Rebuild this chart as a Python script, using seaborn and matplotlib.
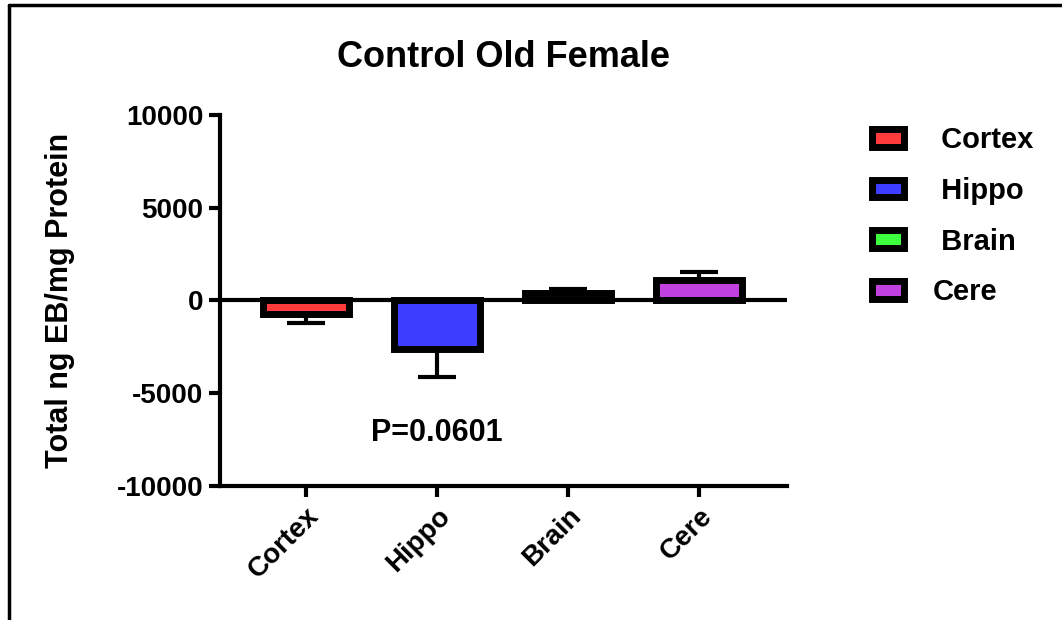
import matplotlib
matplotlib.use("Agg")
import matplotlib.pyplot as plt
import seaborn as sns
import pandas as pd
from matplotlib.patches import Patch
from matplotlib.lines import Line2D

categories = ["Cortex", "Hippo", "Brain", "Cere"]
means = [-750, -2600, 380, 1080]
errors = [480, 1500, 210, 430]
legend_labels = [" Cortex", " Hippo", " Brain", "Cere"]
colors = ["#FF3B3B", "#3D3DFF", "#3DFF3D", "#C040E0"]
yticks = [-10000, -5000, 0, 5000, 10000]

sns.set_style("white")
plt.rcParams['font.family'] = ['Liberation Sans', 'DejaVu Sans']
plt.rcParams['text.color'] = 'black'
plt.rcParams['axes.labelcolor'] = 'black'
plt.rcParams['xtick.color'] = 'black'
plt.rcParams['ytick.color'] = 'black'

fig = plt.figure(figsize=(10.62, 6.2), dpi=100)
ax = fig.add_axes([0.207, 0.216, 0.534, 0.599])

df = pd.DataFrame({"cat": categories, "val": means})
sns.barplot(data=df, x="cat", y="val", hue="cat", palette=colors, order=categories,
            hue_order=categories, errorbar=None, width=0.66, legend=False, ax=ax,
            edgecolor="black", linewidth=5, saturation=1)

# one-sided error bars (away from zero)
for i, (m, e) in enumerate(zip(means, errors)):
    if m < 0:
        yerr = [[e], [0]]
    else:
        yerr = [[0], [e]]
    ax.errorbar(i, m, yerr=yerr, fmt="none", ecolor="black", elinewidth=3,
                capsize=14, capthick=3, zorder=1)

ax.axhline(0, color="black", linewidth=3, zorder=0)
ax.set_xlim(-0.66, 3.67)
ax.set_ylim(-10000, 10000)
ax.set_yticks(yticks)
ax.set_yticklabels([str(t) for t in yticks], fontsize=20, fontweight="bold")
ax.set_xticks(range(len(categories)))
ax.set_xticklabels(categories, rotation=45, ha="right", rotation_mode="anchor",
                   fontsize=20, fontweight="bold")
ax.set_xlabel("")
ax.set_ylabel("Total ng EB/mg Protein", fontsize=22, fontweight="bold", labelpad=30)
ax.set_title("Control Old Female", fontsize=26, fontweight="bold", pad=34)

for s in ["top", "right"]:
    ax.spines[s].set_visible(False)
for s in ["left", "bottom"]:
    ax.spines[s].set_linewidth(3)
    ax.spines[s].set_color("black")
ax.tick_params(axis="both", direction="out", length=8, width=3, color="black",
               left=True, bottom=True, pad=4)

ax.text(1, -7150, "P=0.0601", ha="center", va="center", fontsize=22, fontweight="bold")

handles = [Patch(facecolor=c, edgecolor="black", linewidth=5) for c in colors]
leg = fig.legend(handles, legend_labels, loc="upper left", bbox_to_anchor=(0.796, 0.839),
                 frameon=False, prop={"size": 21, "weight": "bold"},
                 handlelength=1.1, handleheight=0.55, labelspacing=0.78, handletextpad=1.0)

# outer frame lines (top and left)
fig.add_artist(Line2D([0.0085, 1.0], [0.992, 0.992], transform=fig.transFigure,
                      color="black", linewidth=2.5))
fig.add_artist(Line2D([0.0085, 0.0085], [0.0, 0.992], transform=fig.transFigure,
                      color="black", linewidth=2.5))

fig.savefig("out.png", dpi=100, facecolor="white")
